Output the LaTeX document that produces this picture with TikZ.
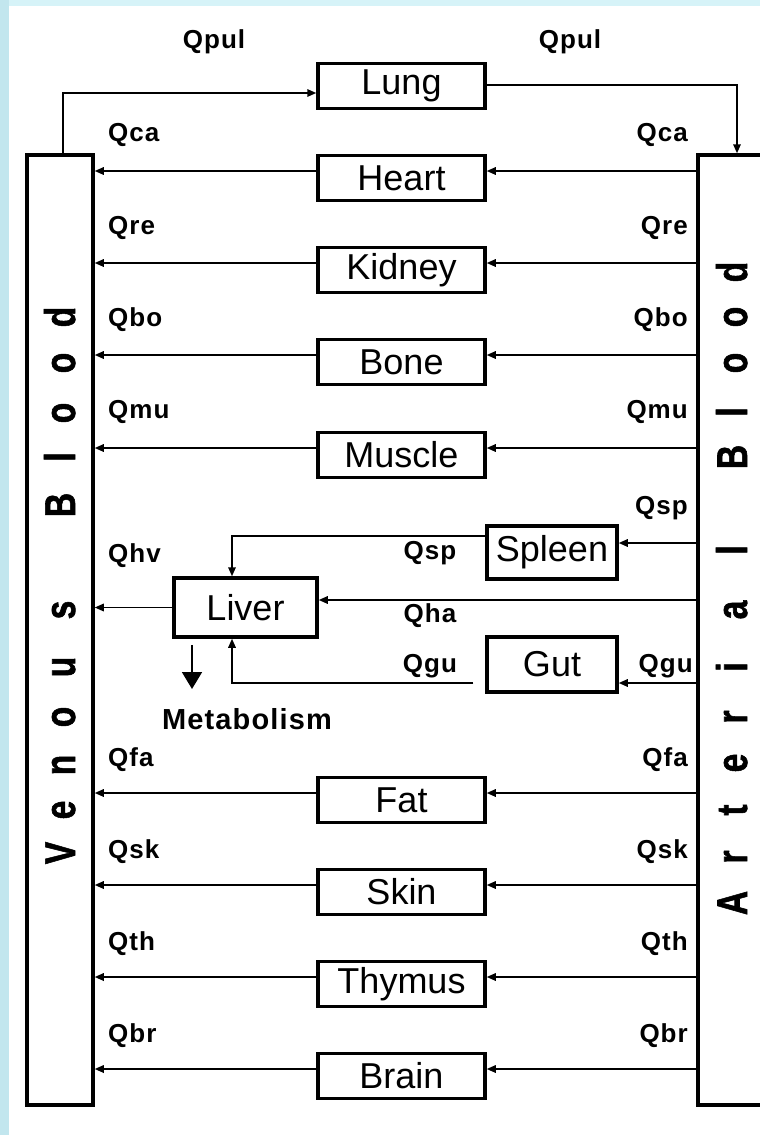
\documentclass[tikz,border=0pt]{standalone}
\usepackage{fontspec}
\setmainfont{Liberation Sans}
\newfontfamily\qfont[LetterSpace=4]{Liberation Sans}
\newfontfamily\bloodfont[FakeBold=1.5]{Liberation Sans Bold}
\usetikzlibrary{arrows.meta}
\definecolor{framecyan}{RGB}{214,243,248}
\definecolor{edgecyan}{RGB}{194,230,238}
\tikzset{
  organ/.style={draw, line width=3.5pt, minimum width=167pt, minimum height=45pt,
    inner sep=0pt, font=\fontsize{36}{40}\selectfont},
  pool/.style={draw, line width=3.5pt, minimum width=66pt, minimum height=950pt, inner sep=0pt},
  flow/.style={line width=1.6pt, -{Triangle[length=9pt,width=7.5pt]}},
  bigflow/.style={line width=1.8pt, -{Triangle[length=17pt,width=20pt]}},
  qlab/.style={inner sep=0pt, font=\qfont\bfseries\fontsize{26}{30}\selectfont},
  letter/.style={rotate=90, anchor=base, inner sep=0pt, font=\bloodfont\fontsize{43}{48}\selectfont}
}
\begin{document}
\begin{tikzpicture}[x=1pt,y=-1pt]
  \clip (0,0) rectangle (760,1135);
  % frame
  \fill[framecyan] (0,0) rectangle (760,1135);
  \fill[edgecyan] (0,0) rectangle (9,1135);
  \fill[white] (9,6) rectangle (760,1135);
  % blood pools
  \node[pool] (venous) at (60,630) {};
  \node[pool, minimum width=100pt] (arterial) at (748,630) {};
  \foreach \ch/\yy in {V/853,e/810,n/765,o/717,u/667,s/610,B/505,l/457,o/413,o/363,d/317}
    \node[letter] (ven-\yy) at (75,\yy) {\scalebox{0.78}[1]{\ch}};
  \foreach \ch/\yy in {A/903,r/857,t/810,e/763,r/717,i/667,a/610,l/550,B/457,l/412,o/363,o/317,d/272}
    \node[letter] (art-\yy) at (747,\yy) {\scalebox{0.78}[1]{\ch}};
  % organs
  \node[organ] (lung) at (401.5,86) {Lung};
  \node[organ] (heart) at (401.5,178) {Heart};
  \node[organ] (kidney) at (401.5,270) {Kidney};
  \node[organ] (bone) at (401.5,362) {Bone};
  \node[organ] (muscle) at (401.5,455) {Muscle};
  \node[organ] (fat) at (401.5,800) {Fat};
  \node[organ] (skin) at (401.5,892) {Skin};
  \node[organ] (thymus) at (401.5,984) {Thymus};
  \node[organ] (brain) at (401.5,1076) {Brain};
  \node[organ, minimum width=130pt, minimum height=53pt] (spleen) at (552,552.5) {Spleen};
  \node[organ, minimum width=130pt, minimum height=55pt] (gut) at (552,664.5) {Gut};
  \node[organ, minimum width=143pt, minimum height=59pt] (liver) at (245.5,607.5) {Liver};
  % pulmonary loop
  \draw[flow] ([xshift=3pt]venous.north) |- ([yshift=-7pt]lung.west);
  \draw[flow] ([yshift=1pt]lung.east) -| ([xshift=-11pt]arterial.north);
  % parallel organs
  \foreach \o in {heart,kidney,bone,muscle,fat,skin,thymus,brain}{
    \draw[flow] ([yshift=7pt]\o.east -| arterial.west) -- ([yshift=7pt]\o.east);
    \draw[flow] ([yshift=7pt]\o.west) -- ([yshift=7pt]\o.west -| venous.east);
  }
  % splanchnic
  \draw[flow] ([yshift=9.5pt]spleen.east -| arterial.west) -- ([yshift=9.5pt]spleen.east);
  \draw[flow] ([yshift=16.5pt]spleen.west) -| ([xshift=-13.5pt]liver.north);
  \draw[flow] ([yshift=7.5pt]liver.east -| arterial.west) -- ([yshift=7.5pt]liver.east);
  \draw[flow] ([yshift=-18.5pt]gut.east -| arterial.west) -- ([yshift=-18.5pt]gut.east);
  \draw[flow] ([xshift=-12pt,yshift=-18.5pt]gut.west) -| ([xshift=-13.5pt]liver.south);
  \draw[flow] (liver.west) -- (liver.west -| venous.east);
  \coordinate (metabtip) at (192,689);
  \draw[bigflow] ([xshift=-53.5pt,yshift=-6pt]liver.south) -- (metabtip);
  % flow labels
  \node[qlab] (qpul-l) at (214,42) {Qpul};
  \node[qlab] (qpul-r) at (570,42) {Qpul};
  \foreach \q/\yy in {Qca/135,Qre/228,Qbo/320,Qmu/412,Qfa/760,Qsk/852,Qth/944,Qbr/1036}{
    \node[qlab, anchor=west] (\q-l) at (108,\yy) {\q};
    \node[qlab, anchor=east] (\q-r) at (688,\yy) {\q};
  }
  \node[qlab, anchor=east] (qsp-r) at (688,508) {Qsp};
  \node[qlab, anchor=west] (qhv) at (108,556) {Qhv};
  \node[qlab] (qsp-m) at (430,553) {Qsp};
  \node[qlab] (qha) at (430,616) {Qha};
  \node[qlab] (qgu-m) at (430,666) {Qgu};
  \node[qlab, anchor=east] (qgu-r) at (693,666) {Qgu};
  \node[qlab, font=\qfont\bfseries\fontsize{29}{32}\selectfont] (metab) at (247,719) {Metabolism};
\end{tikzpicture}
\end{document}
